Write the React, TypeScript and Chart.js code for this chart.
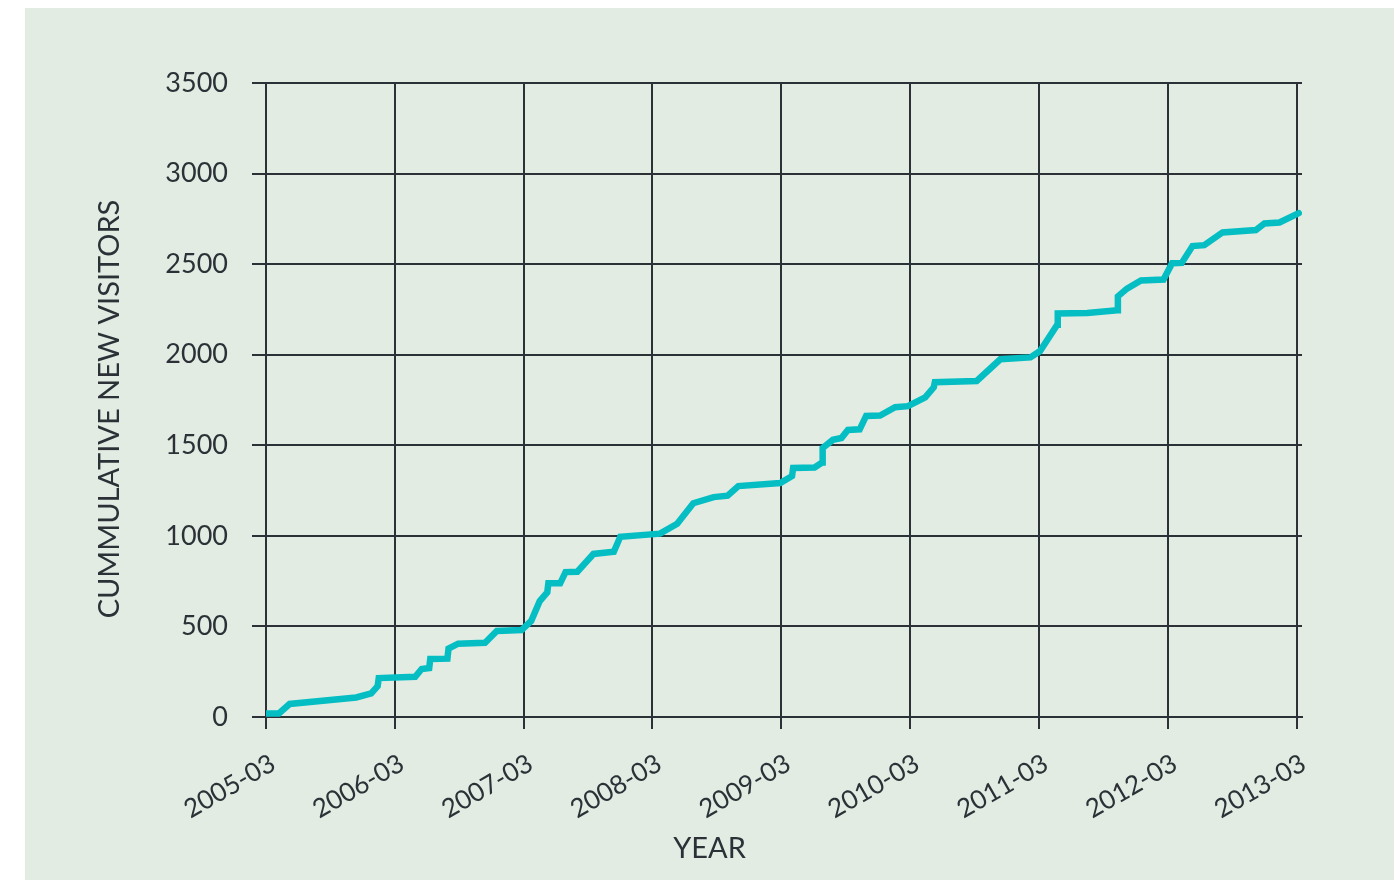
import React, { useEffect, useRef } from "react";
import { Chart, registerables } from "chart.js";

Chart.register(...registerables);

// months since 2005-03 (fractional)
const months: number[] = [
  0, 1.2, 2.2, 8.4, 9.8, 10.4, 10.5, 13.9, 14.5, 15.2, 15.3, 16.9, 17.0, 17.9,
  20.4, 21.5, 23.8, 24.7, 25.5, 26.2, 26.3, 27.4, 27.9, 29.0, 30.5, 32.4, 33.0,
  36.7, 38.3, 39.8, 41.7, 43.0, 44.0, 47.9, 49.0, 49.1, 51.1, 51.8, 51.85, 52.8,
  53.6, 54.2, 55.3, 55.9, 57.2, 58.6, 59.8, 61.4, 62.2, 62.3, 66.2, 68.4, 71.2,
  72.1, 73.7, 73.75, 76.5, 79.3, 79.35, 80.2, 81.5, 83.6, 84.4, 85.3, 86.3, 87.4,
  89.1, 92.2, 93.0, 94.4, 96.2,
];
const visitors: number[] = [
  20, 20, 72, 108, 130, 170, 215, 222, 265, 270, 320, 322, 378, 405,
  410, 475, 480, 530, 640, 688, 738, 738, 800, 802, 900, 912, 995,
  1012, 1067, 1180, 1214, 1222, 1275, 1292, 1330, 1375, 1377, 1405, 1485, 1530,
  1540, 1585, 1588, 1662, 1664, 1710, 1716, 1765, 1820, 1848, 1855, 1975, 1985,
  2020, 2165, 2228, 2230, 2245, 2322, 2365, 2410, 2415, 2505, 2507, 2600, 2605,
  2675, 2688, 2725, 2730, 2782,
];
const startYear = 2005;
const tickMonth = "03";
const yTitle = "CUMMULATIVE NEW VISITORS";
const xTitle = "YEAR";

const BG = "#e2ece3";
const INK = "#2b3136";
const LINE = "#05bec3";
const FONT = "Lato, 'Noto Sans', sans-serif";

const titlePlugin = {
  id: "axisTitles",
  afterDraw(chart: any) {
    const { ctx, chartArea, width } = chart;
    ctx.save();
    ctx.fillStyle = INK;
    ctx.textAlign = "center";
    ctx.textBaseline = "middle";
    ctx.font = `29px ${FONT}`;
    ctx.save();
    ctx.translate(chartArea.left - 156, (chartArea.top + chartArea.bottom) / 2 + 9);
    ctx.rotate(-Math.PI / 2);
    ctx.fillText(yTitle, 0, 0);
    ctx.restore();
    ctx.fillText(xTitle, width / 2, chartArea.bottom + 132);
    ctx.restore();
  },
};

export default function App() {
  const ref = useRef<HTMLCanvasElement | null>(null);
  useEffect(() => {
    if (!ref.current) return;
    const chart = new Chart(ref.current, {
      type: "line",
      data: {
        datasets: [
          {
            data: months.map((m, i) => ({ x: m, y: visitors[i] })),
            borderColor: LINE,
            backgroundColor: LINE,
            borderWidth: 6.5,
            pointRadius: 0,
            tension: 0,
            borderCapStyle: "round",
            borderJoinStyle: "miter",
            fill: false,
          },
        ],
      },
      options: {
        animation: false,
        responsive: true,
        maintainAspectRatio: false,
        layout: { padding: { top: 75, right: 92, left: 0, bottom: 23 } },
        plugins: { legend: { display: false }, tooltip: { enabled: false }, title: { display: false } },
        scales: {
          x: {
            type: "linear",
            min: 0,
            max: 96.5,
            afterFit: (s: any) => {
              s.height = 140;
            },
            ticks: {
              stepSize: 12,
              includeBounds: false,
              autoSkip: false,
              minRotation: 30,
              maxRotation: 30,
              padding: 19,
              labelOffset: 7,
              color: INK,
              font: { family: FONT, size: 26 },
              callback: (v: any) => `${startYear + Number(v) / 12}-${tickMonth}`,
            },
            grid: { color: INK, lineWidth: 2, tickLength: 12, tickColor: INK },
            border: { color: INK, width: 2 },
          },
          y: {
            min: 0,
            max: 3500,
            afterFit: (s: any) => {
              s.width = 241;
            },
            ticks: {
              stepSize: 500,
              padding: 24,
              color: INK,
              font: { family: FONT, size: 27 },
              callback: (v: any) => String(v),
            },
            grid: { color: INK, lineWidth: 2, tickLength: 14, tickColor: INK },
            border: { color: INK, width: 2 },
          },
        },
      },
      plugins: [titlePlugin],
    });
    return () => chart.destroy();
  }, []);
  return (
    <div
      style={{
        position: "fixed",
        left: 25,
        top: 8,
        width: 1369,
        height: 872,
        background: BG,
      }}
    >
      <canvas ref={ref} />
    </div>
  );
}
